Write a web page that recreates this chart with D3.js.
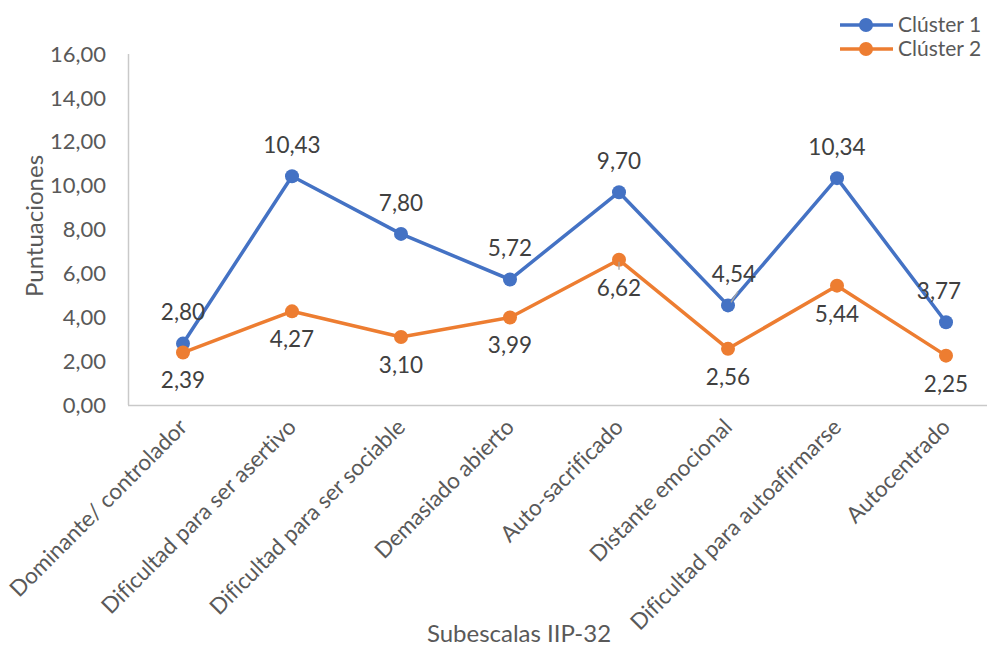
<!DOCTYPE html>
<html><head><meta charset="utf-8">
<script src="https://cdn.jsdelivr.net/npm/d3@7"></script>
<style>body{margin:0;background:#fff}svg{display:block}text{font-family:Lato,"Open Sans",sans-serif;fill:#595959;font-variant-ligatures:none;font-feature-settings:"liga" 0}</style>
</head><body><svg id="c" width="987" height="648"></svg>
<script>
const categories = ["Dominante/ controlador","Dificultad para ser asertivo","Dificultad para ser sociable","Demasiado abierto","Auto-sacrificado","Distante emocional","Dificultad para autoafirmarse","Autocentrado"];
const cluster1 = [2.80,10.43,7.80,5.72,9.70,4.54,10.34,3.77];
const cluster2 = [2.39,4.27,3.10,3.99,6.62,2.56,5.44,2.25];
const seriesNames = ["Clúster 1","Clúster 2"];
const colors = ["#4472C4","#ED7D31"];
const yTicks = [0,2,4,6,8,10,12,14,16];

const svg = d3.select("#c");
const x = d3.scalePoint().domain(categories).range([183,946]);
const y = d3.scaleLinear().domain([0,16]).range([405,54]);
const fmt = v => d3.format(".2f")(v).replace(".",",");

// axes
svg.append("line").attr("x1",128.5).attr("x2",128.5).attr("y1",54).attr("y2",405).attr("stroke","#c9c9c9").attr("stroke-width",1.5);
svg.append("line").attr("x1",128).attr("x2",987).attr("y1",405.5).attr("y2",405.5).attr("stroke","#c9c9c9").attr("stroke-width",1.5);

svg.append("g").selectAll("text").data(yTicks).join("text")
  .attr("x",106).attr("y",d=>y(d)).attr("dy","0.35em").attr("text-anchor","end")
  .style("font-size","22px").text(fmt);

svg.append("g").selectAll("text").data(categories).join("text")
  .attr("transform",d=>`translate(${x(d)},${423}) rotate(-45)`)
  .attr("text-anchor","end").attr("dy","0.35em").style("font-size","22.5px").text(d=>d);

svg.append("text").attr("x",519).attr("y",634).attr("dy","0.35em").attr("text-anchor","middle").style("font-size","24px").text("Subescalas IIP-32");
svg.append("text").attr("transform","translate(35,226) rotate(-90)").attr("dy","0.35em").attr("text-anchor","middle").style("font-size","24px").text("Puntuaciones");

const series = [cluster1, cluster2];
const line = d3.line().x((d,i)=>x(categories[i])).y(d=>y(d));
series.forEach((s,k)=>{
  svg.append("path").datum(s).attr("d",line).attr("fill","none").attr("stroke",colors[k]).attr("stroke-width",3.5).attr("stroke-linejoin","round");
});
series.forEach((s,k)=>{
  svg.append("g").selectAll("circle").data(s).join("circle")
    .attr("cx",(d,i)=>x(categories[i])).attr("cy",d=>y(d)).attr("r",7).attr("fill",colors[k]);
});
// small leader lines (as in reference)
svg.append("line").attr("x1",x(categories[4])).attr("x2",x(categories[4])).attr("y1",y(cluster2[4])+2).attr("y2",y(cluster2[4])+10).attr("stroke","#a6a6a6").attr("stroke-width",1.3);
svg.append("line").attr("x1",x(categories[5])+3).attr("x2",x(categories[5])+10).attr("y1",y(cluster1[5])-3).attr("y2",y(cluster1[5])-14).attr("stroke","#a6a6a6").attr("stroke-width",1.3);
series.forEach((s,k)=>{
  svg.append("g").selectAll("text").data(s).join("text")
    .attr("x",(d,i)=>x(categories[i]) + (k===0 && i===5 ? 6 : k===0 && i===7 ? -7 : 0))
    .attr("y",d=>y(d)+(k===0?-31:28)).attr("dy","0.35em")
    .attr("text-anchor","middle").style("font-size","22.5px").style("fill","#404040").text(fmt);
});

// legend
seriesNames.forEach((n,k)=>{
  const ly = 25 + k*24;
  svg.append("line").attr("x1",840).attr("x2",893).attr("y1",ly).attr("y2",ly).attr("stroke",colors[k]).attr("stroke-width",3.5);
  svg.append("circle").attr("cx",866).attr("cy",ly).attr("r",7).attr("fill",colors[k]);
  svg.append("text").attr("x",898).attr("y",ly).attr("dy","0.35em").style("font-size","21px").text(n);
});
</script></body></html>
